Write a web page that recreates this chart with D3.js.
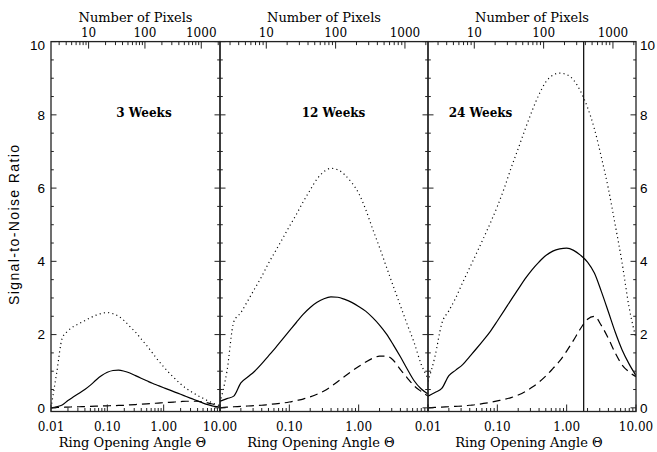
<!DOCTYPE html>
<html><head><meta charset="utf-8">
<script src="https://cdn.jsdelivr.net/npm/d3@7"></script>
<style>body{margin:0;background:#fff}svg{display:block}</style>
</head><body>
<svg id="c" width="657" height="452"></svg>
<script>
// Ring opening angle grid (degrees), common to all panels
const theta = [0.0100,0.0126,0.0158,0.0200,0.0251,0.0316,0.0398,0.0501,0.0631,0.0794,
  0.100,0.126,0.158,0.200,0.251,0.316,0.398,0.501,0.631,0.794,
  1.00,1.26,1.58,2.00,2.51,3.16,3.98,5.01,6.31,7.94,10.0];

const panelLabels = ["3 Weeks","12 Weeks","24 Weeks"];

// 3 weeks
const w3Dotted = [0.00,0.95,1.90,2.10,2.22,2.30,2.38,2.46,2.53,2.58,2.60,2.57,2.50,2.38,2.22,2.07,1.88,1.70,1.50,1.30,1.12,0.95,0.80,0.65,0.53,0.43,0.34,0.26,0.18,0.11,0.06];
const w3Solid  = [0.00,0.03,0.08,0.20,0.30,0.40,0.50,0.62,0.76,0.88,0.97,1.02,1.03,1.00,0.95,0.88,0.81,0.74,0.67,0.61,0.55,0.49,0.43,0.37,0.31,0.25,0.19,0.13,0.08,0.04,0.02];
const w3Dashed = [0.00,0.01,0.015,0.02,0.025,0.03,0.035,0.04,0.045,0.05,0.055,0.06,0.065,0.07,0.08,0.09,0.10,0.11,0.12,0.13,0.14,0.15,0.16,0.17,0.18,0.18,0.18,0.16,0.13,0.09,0.05];
// 12 weeks
const w12Dotted = [0.15,1.00,2.35,2.60,2.92,3.25,3.58,3.95,4.28,4.61,4.95,5.28,5.62,5.95,6.25,6.45,6.54,6.50,6.36,6.15,5.86,5.42,4.90,4.38,3.85,3.32,2.80,2.28,1.78,1.20,0.80];
const w12Solid  = [0.18,0.25,0.32,0.68,0.84,1.00,1.20,1.42,1.64,1.87,2.10,2.33,2.55,2.74,2.88,2.98,3.03,3.02,2.96,2.88,2.77,2.64,2.47,2.26,2.02,1.72,1.40,1.06,0.74,0.52,0.38];
const w12Dashed = [0.00,0.02,0.03,0.04,0.05,0.06,0.07,0.09,0.11,0.13,0.16,0.20,0.24,0.30,0.37,0.46,0.58,0.72,0.86,1.00,1.13,1.25,1.35,1.41,1.41,1.30,1.05,0.82,0.60,0.45,0.32];
// 24 weeks
const w24Dotted = [0.72,1.40,2.30,2.65,3.00,3.42,3.82,4.22,4.63,5.05,5.50,6.00,6.55,7.08,7.60,8.10,8.55,8.90,9.08,9.14,9.10,8.95,8.65,8.20,7.62,6.85,6.00,5.00,3.95,2.75,1.90];
const w24Solid  = [0.32,0.42,0.53,0.88,1.03,1.18,1.40,1.62,1.85,2.09,2.37,2.66,2.95,3.24,3.52,3.77,3.98,4.16,4.28,4.34,4.36,4.30,4.17,3.98,3.68,3.18,2.63,2.07,1.58,1.20,0.88];
const w24Dashed = [0.00,0.01,0.02,0.03,0.04,0.05,0.07,0.09,0.12,0.15,0.19,0.23,0.28,0.35,0.44,0.56,0.70,0.87,1.07,1.28,1.55,1.85,2.16,2.42,2.50,2.25,1.90,1.50,1.17,0.98,0.85];
const markerTheta24 = 1.76;

const thetaDomain = [0.01, 10];
const pixelDomain = [2.15, 2150];
const thetaMajor = [0.01, 0.1, 1, 10];
const pixelMajor = [10, 100, 1000];
const yMajor = [0,2,4,6,8,10];
const yDomain = [-0.1, 10];

const svg = d3.select("#c");
const serif = "'DejaVu Serif', serif";
const sans = "'Liberation Sans', Arial, sans-serif";
const yTopPx = 41.6, yBotPx = 411.5;
const y = d3.scaleLinear().domain(yDomain).range([yBotPx, yTopPx]);

const panels = [
  {x0:51, x1:220, series:[w3Dotted,w3Solid,w3Dashed], botLabels:[true,true,true,true]},
  {x0:220, x1:428, series:[w12Dotted,w12Solid,w12Dashed], botLabels:[false,true,true,false]},
  {x0:428, x1:636, series:[w24Dotted,w24Solid,w24Dashed], botLabels:[true,true,true,true], marker:markerTheta24}
];
const styles = [
  {dash:"1.1,3.2", w:1.2},
  {dash:null, w:1.2},
  {dash:"8,5", w:1.2}
];
const labelX = [144, 333.5, 480.5];

function minorTicks(dom){
  const out=[]; const lo=Math.floor(Math.log10(dom[0])), hi=Math.ceil(Math.log10(dom[1]));
  for(let e=lo;e<=hi;e++) for(let k=2;k<=9;k++){const v=k*Math.pow(10,e); if(v>=dom[0]&&v<=dom[1]) out.push(v);}
  return out;
}
const fmtTheta = d => d>=10 ? "10.00" : d.toFixed(2);

panels.forEach((p,i)=>{
  const g = svg.append("g");
  const x = d3.scaleLog().domain(thetaDomain).range([p.x0,p.x1]);
  const xp = d3.scaleLog().domain(pixelDomain).range([p.x0,p.x1]);
  const line = d3.line().x((d,j)=>x(theta[j])).y(d=>y(d)).curve(d3.curveMonotoneX);
  const clip = "clip"+i;
  svg.append("clipPath").attr("id",clip).append("rect").attr("x",p.x0).attr("y",yTopPx).attr("width",p.x1-p.x0).attr("height",yBotPx-yTopPx);

  p.series.forEach((s,k)=>{
    g.append("path").attr("d",line(s)).attr("fill","none").attr("stroke","#000")
      .attr("stroke-width",styles[k].w).attr("stroke-dasharray",styles[k].dash)
      .attr("clip-path",`url(#${clip})`);
  });
  if(p.marker){
    g.append("line").attr("x1",x(p.marker)).attr("x2",x(p.marker)).attr("y1",yTopPx).attr("y2",yBotPx).attr("stroke","#000").attr("stroke-width",1.2);
  }
  // bottom ticks
  minorTicks(thetaDomain).forEach(v=>{
    g.append("line").attr("x1",x(v)).attr("x2",x(v)).attr("y1",yBotPx).attr("y2",yBotPx-3.5).attr("stroke","#222");
  });
  thetaMajor.forEach((v,j)=>{
    g.append("line").attr("x1",x(v)).attr("x2",x(v)).attr("y1",yBotPx).attr("y2",yBotPx-7).attr("stroke","#222");
    if(p.botLabels[j]) g.append("text").attr("x",x(v)).attr("y",431).attr("text-anchor","middle")
      .attr("font-family",serif).attr("font-size",12).text(fmtTheta(v));
  });
  // top ticks
  minorTicks(pixelDomain).forEach(v=>{
    g.append("line").attr("x1",xp(v)).attr("x2",xp(v)).attr("y1",yTopPx).attr("y2",yTopPx+3.5).attr("stroke","#222");
  });
  pixelMajor.forEach(v=>{
    g.append("line").attr("x1",xp(v)).attr("x2",xp(v)).attr("y1",yTopPx).attr("y2",yTopPx+7).attr("stroke","#222");
    g.append("text").attr("x",xp(v)).attr("y",37).attr("text-anchor","middle")
      .attr("font-family",serif).attr("font-size",12).text(String(v));
  });
  // y ticks both sides
  d3.range(0,10.01,0.5).forEach(v=>{
    const major = Math.abs(v%2)<1e-9;
    const L = major?5.5:2.8;
    g.append("line").attr("x1",p.x0).attr("x2",p.x0+L).attr("y1",y(v)).attr("y2",y(v)).attr("stroke","#222");
    g.append("line").attr("x1",p.x1).attr("x2",p.x1-L).attr("y1",y(v)).attr("y2",y(v)).attr("stroke","#222");
  });
  // frame
  g.append("rect").attr("x",p.x0).attr("y",yTopPx).attr("width",p.x1-p.x0).attr("height",yBotPx-yTopPx)
    .attr("fill","none").attr("stroke","#222").attr("stroke-width",1.3);
  // titles
  g.append("text").attr("x",(p.x0+p.x1)/2).attr("y",22).attr("text-anchor","middle")
    .attr("font-family",serif).attr("font-size",13).text("Number of Pixels");
  g.append("text").attr("x",(p.x0+p.x1)/2-3).attr("y",447).attr("text-anchor","middle")
    .attr("font-family",serif).attr("font-size",13).text("Ring Opening Angle \u0398");
  g.append("text").attr("x",labelX[i]).attr("y",117).attr("text-anchor","middle")
    .attr("font-family",serif).attr("font-weight","bold").attr("font-size",12).text(panelLabels[i]);
});

// y tick labels
yMajor.forEach(v=>{
  const dy = v===10 ? 4 : 0;
  svg.append("text").attr("x",45).attr("y",y(v)+dy).attr("dy","0.36em").attr("text-anchor","end")
    .attr("font-family",sans).attr("font-size",13.5).text(v);
  svg.append("text").attr("x",640).attr("y",y(v)+dy).attr("dy","0.36em").attr("text-anchor","start")
    .attr("font-family",sans).attr("font-size",13.5).text(v);
});
svg.append("text").attr("transform","translate(19,225) rotate(-90)").attr("text-anchor","middle")
  .attr("font-family",sans).attr("font-size",14).attr("textLength",160).attr("lengthAdjust","spacing")
  .text("Signal-to-Noise Ratio");
</script>
</body></html>
